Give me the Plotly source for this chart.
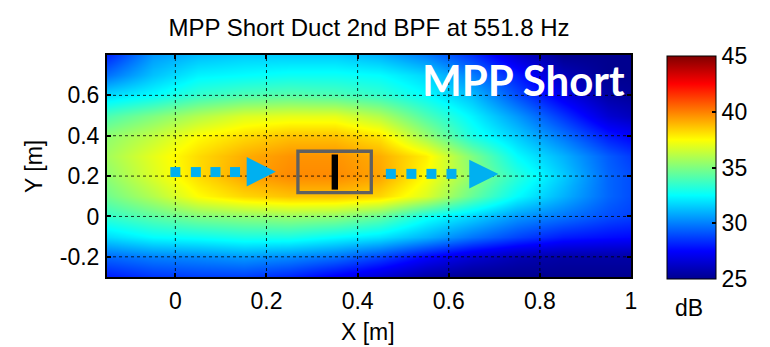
import plotly.graph_objects as go

# ---- data ----
x_grid = [-0.15, -0.05, 0.05, 0.15, 0.25, 0.35, 0.45, 0.55, 0.65, 0.75, 0.85, 0.95, 1.05]
y_grid = [-0.3, -0.2, -0.1, 0.0, 0.1, 0.2, 0.3, 0.4, 0.5, 0.6, 0.7, 0.8]
spl_db = [
    [28.0, 28.5, 28.7, 28.7, 28.2, 27.3, 26.5, 25.5, 25.0, 25.0, 25.0, 25.0, 25.0],
    [29.5, 30.0, 30.2, 30.5, 30.2, 29.7, 28.8, 27.5, 26.5, 25.8, 25.5, 25.5, 25.5],
    [31.8, 32.5, 32.7, 33.0, 33.0, 32.5, 32.0, 31.0, 29.8, 28.8, 28.0, 27.7, 27.5],
    [33.5, 34.3, 35.0, 35.3, 35.5, 35.3, 34.5, 32.8, 31.7, 30.5, 29.8, 29.0, 28.5],
    [34.7, 36.0, 37.5, 38.3, 38.7, 38.7, 38.3, 36.8, 34.5, 32.5, 31.0, 29.5, 28.5],
    [35.3, 36.8, 38.2, 39.3, 39.8, 39.8, 39.3, 37.5, 35.3, 33.3, 31.5, 29.5, 28.5],
    [35.7, 37.0, 38.2, 39.1, 39.6, 39.6, 39.1, 37.8, 35.0, 32.5, 31.0, 29.3, 28.0],
    [35.3, 36.3, 37.5, 38.2, 38.7, 38.7, 38.0, 35.5, 33.0, 31.5, 29.8, 28.0, 27.0],
    [34.0, 35.0, 36.0, 36.8, 37.0, 37.0, 36.0, 34.0, 32.3, 30.5, 28.5, 26.5, 25.5],
    [31.8, 32.5, 33.5, 34.0, 34.2, 34.0, 33.5, 32.5, 31.2, 29.0, 27.0, 25.5, 25.0],
    [29.7, 31.3, 32.3, 32.5, 32.7, 32.7, 32.5, 31.7, 30.0, 28.0, 26.0, 25.0, 25.0],
    [28.2, 30.5, 31.2, 31.5, 31.5, 31.5, 31.0, 30.0, 28.5, 26.5, 25.0, 25.0, 25.0],
]
x_ticks = [0, 0.2, 0.4, 0.6, 0.8, 1.0]
x_tick_labels = ["0", "0.2", "0.4", "0.6", "0.8", "1"]
y_ticks = [-0.2, 0, 0.2, 0.4, 0.6]
y_tick_labels = ["-0.2", "0", "0.2", "0.4", "0.6"]
cbar_ticks = [25, 30, 35, 40, 45]
x_range = [-0.15, 1.0]
y_range = [-0.3, 0.8]

# duct / MPP overlay geometry (data coords)
box_x = [0.269, 0.430]
box_y = [0.118, 0.323]
bar_x = [0.343, 0.357]
bar_y = [0.133, 0.307]
left_dots_x = [0.0, 0.045, 0.088, 0.131]
left_dots_y = 0.22
left_tri = dict(base=0.1565, tip=0.2205, yc=0.222, half=0.073)
right_dots_x = [0.473, 0.518, 0.562, 0.606]
right_dots_y = 0.211
right_tri = dict(base=0.645, tip=0.709, yc=0.210, half=0.071)

jet = [
    [0.0, "rgb(0,0,143)"],
    [0.125, "rgb(0,0,255)"],
    [0.375, "rgb(0,255,255)"],
    [0.625, "rgb(255,255,0)"],
    [0.875, "rgb(255,0,0)"],
    [1.0, "rgb(128,0,0)"],
]

FONT = "Liberation Sans, Arial, sans-serif"
ARROW = "#00B0F0"
GRID = dict(color="rgba(0,0,0,0.8)", width=1, dash="dot")

W, H = 770, 347
L, R, T, B = 107, 139, 55, 70
pw, ph = W - L - R, H - T - B

def px_x(p):
    return (p - L) / pw

def px_y(p):
    return (H - B - p) / ph

cb_left, cb_right, cb_top, cb_bot = 667, 716, 56, 279

fig = go.Figure()
fig.add_trace(go.Heatmap(
    x=x_grid, y=y_grid, z=spl_db, zsmooth="best",
    colorscale=jet, zmin=25, zmax=45,
    colorbar=dict(
        x=px_x(cb_left), xanchor="left", y=px_y((cb_top + cb_bot) / 2), yanchor="middle",
        len=cb_bot - cb_top, lenmode="pixels", thickness=cb_right - cb_left, thicknessmode="pixels",
        outlinecolor="black", outlinewidth=1,
        tickvals=cbar_ticks, ticks="inside", ticklen=4, tickcolor="black", tickwidth=1.5,
        tickfont=dict(family=FONT, size=23, color="black"),
        xpad=0, ypad=0,
    ),
    hoverinfo="skip",
))

# dotted grid drawn above the colour map but below the arrows (MATLAB style)
for xv in x_ticks:
    if x_range[0] < xv < x_range[1]:
        fig.add_trace(go.Scatter(x=[xv, xv], y=y_range, mode="lines", line=GRID,
                                 showlegend=False, hoverinfo="skip"))
for yv in y_ticks:
    fig.add_trace(go.Scatter(x=x_range, y=[yv, yv], mode="lines", line=GRID,
                             showlegend=False, hoverinfo="skip"))

for tri, dots_x, dots_y in [(left_tri, left_dots_x, left_dots_y),
                            (right_tri, right_dots_x, right_dots_y)]:
    fig.add_trace(go.Scatter(
        x=dots_x, y=[dots_y] * len(dots_x), mode="markers",
        marker=dict(symbol="square", size=10, color=ARROW, line=dict(width=0)),
        showlegend=False, hoverinfo="skip"))
    fig.add_trace(go.Scatter(
        x=[tri["base"], tri["tip"], tri["base"], tri["base"]],
        y=[tri["yc"] + tri["half"], tri["yc"], tri["yc"] - tri["half"], tri["yc"] + tri["half"]],
        mode="lines", fill="toself", fillcolor=ARROW, line=dict(width=0, color=ARROW),
        showlegend=False, hoverinfo="skip"))

fig.add_shape(type="rect", x0=box_x[0], x1=box_x[1], y0=box_y[0], y1=box_y[1],
              xref="x", yref="y", line=dict(color="#606060", width=3.3))
fig.add_shape(type="rect", x0=bar_x[0], x1=bar_x[1], y0=bar_y[0], y1=bar_y[1],
              xref="x", yref="y", line=dict(width=0), fillcolor="black")

# colorbar left-side inner tick marks (MATLAB style)
for v in cbar_ticks[1:-1]:
    yp = cb_bot - (v - 25) / 20 * (cb_bot - cb_top)
    fig.add_shape(type="line", xref="paper", yref="paper",
                  x0=px_x(cb_left), x1=px_x(cb_left + 4), y0=px_y(yp), y1=px_y(yp),
                  line=dict(color="black", width=1.5))

fig.add_annotation(text="<b>MPP Short</b>", x=0.992, y=0.675, xref="x", yref="y",
                   xanchor="right", yanchor="middle", showarrow=False,
                   font=dict(family="Lato, sans-serif", size=42, color="white"))
fig.add_annotation(text="dB", x=px_x(689), y=px_y(308), xref="paper", yref="paper",
                   xanchor="center", yanchor="middle",
                   showarrow=False, font=dict(family=FONT, size=23, color="black"))
# axis titles
fig.add_annotation(text="X [m]", x=px_x(368), y=px_y(332), xref="paper", yref="paper",
                   xanchor="center", yanchor="middle",
                   showarrow=False, font=dict(family=FONT, size=23, color="black"))
fig.add_annotation(text="Y [m]", x=px_x(34), y=px_y(167), xref="paper", yref="paper",
                   xanchor="center", yanchor="middle", textangle=-90,
                   showarrow=False, font=dict(family=FONT, size=23, color="black"))

axis_common = dict(
    showline=True, linecolor="black", linewidth=2, mirror="ticks",
    ticks="inside", ticklen=4, tickwidth=1.5, tickcolor="black",
    showgrid=False, zeroline=False,
    tickfont=dict(family=FONT, size=23, color="black"),
    automargin=False, layer="above traces",
)

fig.update_layout(
    width=W, height=H, margin=dict(l=L, r=R, t=T, b=B, autoexpand=False),
    paper_bgcolor="white", plot_bgcolor="white",
    title=dict(text="MPP Short Duct 2nd BPF at 551.8 Hz", x=369 / W, xanchor="center",
               y=(H - 28) / H, yanchor="middle", yref="container", xref="container",
               font=dict(family=FONT, size=24, color="black")),
    xaxis=dict(range=x_range, tickvals=x_ticks, ticktext=x_tick_labels,
               ticklabelstandoff=2, **axis_common),
    yaxis=dict(range=y_range, tickvals=y_ticks, ticktext=y_tick_labels,
               ticklabelstandoff=1, **axis_common),
    showlegend=False,
)

fig.write_html("out.html")
